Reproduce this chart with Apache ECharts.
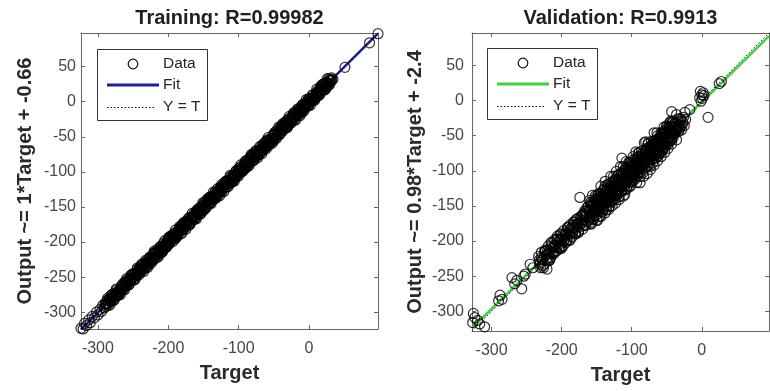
<!DOCTYPE html>
<html>
<head>
<meta charset="utf-8">
<script src="https://cdn.jsdelivr.net/npm/echarts@6/dist/echarts.min.js"></script>
<style>
  html, body { margin: 0; padding: 0; background: #fff; }
  #chart { width: 770px; height: 391px; }
</style>
</head>
<body>
<div id="chart"></div>
<script>
// ---- Training set: network targets and outputs ----
const trainTarget = [
  -324,-321,-319,-316,-313,-311,-308,-305,-302,-300,-297,-295,-293,-291,
  -289,-287,-284,-282,-279,-277,-275,-272,-270,-267,-265,-262,-260,-258,-255,-253,-250,-248,-245,-243,
  -241,-238,-236,-233,-231,-228,-226,-224,-221,-219,-216,-214,-211,-209,-207,-204,-202,-199,-197,-194,
  -192,-190,-187,-185,-182,-180,-177,-175,-173,-170,-168,-165,-163,-160,-158,-156,-153,-151,-148,-146,
  -143,-141,-139,-136,-134,-131,-129,-126,-124,-122,-119,-117,-114,-112,-109,-107,-105,-102,-100,-97,
  -95,-92,-90,-88,-85,-83,-80,-78,-75,-73,-71,-68,-66,-63,-61,-58,-56,-54,-51,-49,-46,-44,-41,-39,
  -37,-34,-32,-29,-27,-24,-22,-20,-17,-15,-12,-10,-7,-5,-3,0,2,5,7,10,12,14,17,19,22,24,27,29,32,34,
  -280,-270,-262,-250,-240,-231,-220,-210,-200,-190,-181,-171,-160,-150,-141,-131,-120,-111,-100,-90,
  -80,-70,-60,-50,-40,-30,-20,-10,0,9,18,26,
  51,86,98,
  -290,-289,-288,-287,-286,-285,-284,-283,-282,-281,-280,-279,-278,
  -277,-276,-275,-274,-273,-272,-271,-270,-269,-268,-267,-266,-265,
  -264,-263,-262,-261,-260,-259,-258,-257,-256,-255,-254,-253,-252,
  -251,-250,-249,-248,-247,-246,-245,-244,-243,-242,-241,-240,-239,
  -238,-237,-236,-235,-234,-233,-232,-231,-230,-229,-228,-227,-226,
  -225,-224,-223,-222,-221,-220,-219,-218,-217,-216,-215,-214,-213,
  -212,-211,-210,-209,-208,-207,-206,-205,-204,-203,-202,-201,-200,
  -199,-198,-197,-196,-195,-194,-193,-192,-191,-190,-189,-188,-187,
  -186,-185,-184,-183,-182,-181,-180,-179,-178,-177,-176,-175,-174,
  -173,-172,-171,-170,-169,-168,-167,-166,-165,-164,-163,-162,-161,
  -160,-159,-158,-157,-156,-155,-154,-153,-152,-151,-150,-149,-148,
  -147,-146,-145,-144,-143,-142,-141,-140,-139,-138,-137,-136,-135,
  -134,-133,-132,-131,-130,-129,-128,-127,-126,-125,-124,-123,-122,
  -121,-120,-119,-118,-117,-116,-115,-114,-113,-112,-111,-110,-109,
  -108,-107,-106,-105,-104,-103,-102,-101,-100,-99,-98,-97,-96,
  -95,-94,-93,-92,-91,-90,-89,-88,-87,-86,-85,-84,-83,
  -82,-81,-80,-79,-78,-77,-76,-75,-74,-73,-72,-71,-70,
  -69,-68,-67,-66,-65,-64,-63,-62,-61,-60,-59,-58,-57,
  -56,-55,-54,-53,-52,-51,-50,-49,-48,-47,-46,-45,-44,
  -43,-42,-41,-40,-39,-38,-37,-36,-35,-34,-33,-32,-31,
  -30,-29,-28,-27,-26,-25,-24,-23,-22,-21,-20,-19,-18,
  -17,-16,-15,-14,-13,-12,-11,-10,-9,-8,-7,-6,-5,
  -4,-3,-2,-1,0,1,2,3,4,5,6,7,8,
  9,10,11,12,13,14,15,16,17,18,19,20,21,
  22,23,24,25,26,27,28,29,30,31,32,
  -286,-283,-280,-277,-274,-271,-268,-265,-262,-259,-256,-253,
  -250,-247,-244,-241,-238,-235,-232,-229,-226,-223,-220,-217,
  -214,-211,-208,-205,-202,-199,-196,-193,-190,-187,-184,-181,
  -178,-175,-172,-169,-166,-163,-160,-157,-154,-151,-148,-145,
  -142,-139,-136,-133,-130,-127,-124,-121,-118,-115,-112,-109,
  -106,-103,-100,-97,-94,-91,-88,-85,-82,-79,-76,-73,
  -70,-67,-64,-61,-58,-55,-52,-49,-46,-43,-40,-37,
  -34,-31,-28,-25,-22,-19,-16,-13,-10,-7,-4,-1,
  2,5,8,11,14,17,20,23,26,29
];
const trainOutput = [
  -323,-324,-316,-319,-311,-315,-306,-308,-300,-304,-296,-299,-290,-294,
  -288,-290,-282,-285,-279,-275,-278,-271,-273,-264,-267,-263,-258,-261,-252,-255,-251,-245,-248,-244,
  -238,-241,-237,-230,-234,-229,-223,-227,-222,-216,-219,-215,-208,-212,-206,-207,-199,-202,-198,-191,
  -195,-189,-190,-182,-184,-181,-174,-178,-172,-173,-165,-167,-164,-157,-161,-155,-156,-148,-151,-147,
  -140,-144,-138,-139,-131,-133,-130,-123,-127,-121,-122,-114,-117,-113,-106,-110,-104,-105,-97,-100,
  -96,-89,-93,-87,-88,-80,-83,-79,-72,-76,-70,-71,-63,-66,-62,-55,-59,-53,-54,-46,-49,-45,-38,-42,
  -36,-37,-29,-32,-28,-21,-25,-19,-20,-12,-15,-11,-4,-8,-2,-3,5,2,6,13,9,13,16,22,19,23,26,31,30,32,
  -275,-275,-257,-255,-235,-236,-215,-215,-195,-195,-176,-176,-155,-155,-136,-136,-115,-116,-95,-95,
  -75,-75,-55,-55,-35,-35,-15,-15,4,5,22,22,
  49,84,97,
  -288,-292,-288,-283,-287,-290,-281,-282,-284,-276,-284,-278,-279,
  -282,-273,-274,-276,-268,-276,-270,-271,-267,-271,-267,-262,-266,
  -268,-262,-263,-259,-263,-259,-254,-258,-261,-252,-253,-255,-247,
  -251,-246,-250,-253,-244,-245,-247,-239,-247,-241,-242,-238,-242,
  -237,-239,-231,-239,-233,-234,-230,-234,-230,-225,-229,-232,-223,
  -226,-222,-226,-222,-217,-221,-224,-215,-216,-218,-210,-218,-212,
  -213,-216,-207,-208,-210,-202,-210,-204,-205,-201,-205,-201,-196,
  -194,-202,-196,-197,-193,-197,-193,-188,-192,-195,-186,-187,-189,
  -189,-185,-180,-184,-187,-178,-179,-181,-173,-181,-175,-176,-172,
  -170,-171,-173,-165,-173,-167,-168,-164,-168,-164,-159,-163,-166,
  -159,-160,-156,-160,-156,-151,-155,-158,-149,-150,-152,-144,-152,
  -143,-147,-150,-141,-142,-144,-136,-144,-138,-139,-135,-139,-135,
  -136,-128,-136,-130,-131,-127,-131,-127,-122,-126,-129,-120,-121,
  -119,-123,-119,-114,-118,-121,-112,-113,-115,-107,-115,-109,-110,
  -113,-104,-105,-107,-99,-107,-101,-102,-98,-102,-98,-93,-97,
  -99,-93,-94,-90,-94,-90,-85,-89,-92,-83,-84,-86,-78,
  -82,-77,-81,-84,-75,-76,-78,-70,-78,-72,-73,-69,-73,
  -68,-70,-62,-70,-64,-65,-61,-65,-61,-56,-60,-63,-54,
  -57,-53,-57,-53,-48,-52,-55,-46,-47,-49,-41,-49,-43,
  -44,-47,-38,-39,-41,-33,-41,-35,-36,-32,-36,-32,-27,
  -25,-33,-27,-28,-24,-28,-24,-19,-23,-26,-17,-18,-20,
  -20,-16,-11,-15,-18,-9,-10,-12,-4,-12,-6,-7,-3,
  -1,-2,-4,4,-4,2,1,5,1,5,10,6,3,
  10,9,13,9,13,18,14,11,20,19,17,25,17,
  26,22,19,28,27,25,33,25,31,30,34,
  -280,-290,-275,-283,-267,-276,-275,-260,-268,-252,-261,-247,
  -245,-253,-237,-246,-232,-242,-226,-236,-221,-229,-213,-222,
  -221,-206,-214,-198,-207,-193,-191,-199,-183,-192,-178,-188,
  -172,-182,-167,-175,-159,-168,-167,-152,-160,-144,-153,-139,
  -137,-145,-129,-138,-124,-134,-118,-128,-113,-121,-105,-114,
  -113,-98,-106,-90,-99,-85,-83,-91,-75,-84,-70,-80,
  -64,-74,-59,-67,-51,-60,-59,-44,-52,-36,-45,-31,
  -29,-37,-21,-30,-16,-26,-10,-20,-5,-13,3,-6,
  -5,10,2,18,9,23,25,17,33,24
];

// ---- Validation set: network targets and outputs ----
const valTarget = [
  -326,-324,-320,-317,-310,-327,
  -290,-288,-285,-271,-267,-264,-257,-254,-252,-245,-241,-221,
  -233,-231,-229,-227,-225,-224,-222,-220,-219,-218,-216,-215,-213,-212,-210,-209,-207,-206,-204,-203,
  -201,-200,-198,-197,-195,-194,-192,-191,-189,-188,-186,-185,-183,-182,-180,-179,-177,-176,-174,-173,
  -172,-170,-169,-168,-167,-166,
  -165,-163,-162,-160,-159,-158,-156,-155,-154,-153,-151,-150,-149,-148,-147,-146,-145,-144,-143,-142,
  -141,-140,-139,-138,-137,-136,-135,-134,-133,-132,-131,-130,-129,-128,-127,-126,-125,-124,-123,-122,
  -121,-120,-119,-118,-117,-116,-115,-114,-113,-112,-111,-110,-109,-108,-107,-106,-105,-104,-103,-102,
  -101,-100,-99,-98,-97,-96,-95,-94,-93,-92,-91,-90,-89,-88,-87,-86,-85,-84,-83,-82,
  -81,-80,-79,-78,-77,-76,-75,-74,-73,-72,-71,-70,-69,-68,-67,-66,-65,-64,-63,-62,
  -61,-60,-59,-58,-57,-56,-55,-54,-53,-52,-51,-50,-49,-48,-47,-46,-45,-44,-43,-42,
  -41,-40,-38,-36,-35,-33,-31,-29,-27,-25,-23,-138,
  -43,-36,-24,-17,-30,-3,0,2,-1,1,3,-2,9,25,28,
  -162,-161,-160,-159,-158,-157,-156,-155,-154,-153,-152,-151,-150,-149,-148,-147,-146,-145,-144,-143,
  -142,-141,-140,-139,-138,-137,-136,-135,-134,-133,-132,-131,-130,-129,-128,-127,-126,-125,-124,-123,
  -122,-121,-120,-119,-118,-117,-116,-115,-114,-113,-112,-111,-110,-109,-108,-107,-106,-105,-104,-103,
  -102,-101,-100,-99,-98,-97,-96,-95,-94,-93,-92,-91,-90,-89,-88,-87,-86,-85,-84,-83,
  -82,-81,-80,-79,-78,-77,-76,-75,-74,-73,-72,-71,-70,-69,-68,-67,-66,-65,-64,-63,
  -62,-61,-60,-59,-58,-57,-56,-55,-54,-53,-52,-51,-50,-49,-48,-47,-46,-45,-44,-43,
  -42,-40,-39,-37,-34,-32,-30,-28,-26,
  -232,-230,-228,-226,-224,-222,-220,-218,-216,-214,-212,-210,-208,-206,-204,-202,-200,-198,-196,-194,
  -192,-190,-188,-186,-184,-182,-180,-178,-176,-174,-172,-170,-168,-166,-164,
  -160,-159,-158,-157,-156,-155,-154,-153,-152,-151,-150,-149,-148,
  -147,-146,-145,-144,-143,-142,-141,-140,-139,-138,-137,-136,-135,
  -134,-133,-132,-131,-130,-129,-128,-127,-126,-125,-124,-123,-122,
  -121,-120,-119,-118,-117,-116,-115,-114,-113,-112,-111,-110,-109,
  -108,-107,-106,-105,-104,-103,-102,-101,-100,-99,-98,-97,-96,
  -95,-94,-93,-92,-91,-90,-89,-88,-87,-86,-85,-84,-83,
  -82,-81,-80,-79,-78,-77,-76,-75,-74,-73,-72,-71,-70,
  -69,-68,-67,-66,-65,-64,-63,-62,-61,-60,-59,-58,-57,
  -56,-55,-54,-53,-52,-51,-50,-49,-48,-47,-46,-45,-44,
  -43,-42,-41,-40,-39,-38,-37,-36,-35,-34,-33,-32,-31,
  -231,-229,-227,-225,-223,-221,-219,-217,-215,-213,-211,-209,-207,-205,-203,
  -201,-199,-197,-195,-193,-191,-189,-187,-185,-183,-181,-179,-177,-175,-173,
  -171,-169,-167,
  -160,-158,-156,-154,-152,-150,-148,-146,-144,-142,
  -140,-138,-136,-134,-132,-130,-128,-126,-124,-122,
  -120,-118,-116,-114,-112,-110,-108,-106,-104,-102,
  -100,-98,-96,-94,-92,-90,-88,-86,-84,-82,
  -80,-78,-76,-74,-72,-70,-68,-66,-64,-62,
  -60,-58,-56,-54,-52,-50,-48,-46,-44,-42
];
const valOutput = [
  -303,-309,-313,-318,-322,-316,
  -285,-277,-283,-252,-261,-256,-268,-250,-247,-233,-238,-240,
  -222,-230,-216,-226,-233,-213,-220,-228,-207,-214,-224,-202,-210,-219,-198,-205,-214,-193,-201,-210,
  -190,-197,-207,-185,-193,-202,-181,-189,-198,-177,-185,-194,-173,-181,-190,-169,-177,-186,-138,-165,
  -174,-183,-161,-170,-157,-178,
  -158,-172,-150,-166,-145,-176,-160,-169,-148,-155,-163,-140,-171,-152,-144,-158,-133,-165,-149,-138,
  -155,-127,-146,-160,-136,-150,-124,-141,-155,-131,-144,-118,-137,-150,-126,-140,-113,-132,-146,-120,
  -135,-108,-127,-141,-115,-129,-103,-82,-121,-136,-110,-134,-98,-118,-126,-104,-113,-94,-122,-99,
  -108,-88,-115,-102,-92,-110,-84,-100,-117,-90,-104,-80,-96,-117,-86,-101,-76,-92,-108,-82,
  -96,-71,-88,-104,-78,-92,-66,-84,-98,-70,-83,-62,-77,-92,-66,-78,-58,-72,-86,-61,
  -74,-52,-67,-80,-56,-68,-47,-62,-74,-52,-63,-43,-57,-68,-46,-58,-38,-52,-62,-41,
  -53,-34,-47,-56,-38,-44,-36,-42,-31,-36,-27,-115,
  -16,-20,-17,-13,-26,4,8,11,-1,3,7,13,-24,24,27,
  -156,-170,-158,-173,-147,-161,-148,-166,-154,-140,-158,-147,-152,-140,-155,-132,-158,-142,-145,-136,
  -153,-141,-127,-145,-134,-139,-127,-142,-119,-145,-129,-132,-123,-123,-137,-125,-140,-114,-128,-115,
  -134,-118,-121,-112,-112,-126,-114,-129,-103,-117,-104,-122,-110,-96,-114,-103,-108,-96,-111,-88,
  -116,-90,-104,-91,-109,-97,-83,-101,-90,-95,-83,-98,-75,-101,-85,-88,-79,-79,-93,-81,
  -88,-77,-82,-70,-85,-62,-88,-72,-75,-66,-66,-80,-68,-83,-57,-71,-58,-76,-64,-50,
  -59,-62,-53,-53,-67,-55,-70,-44,-58,-45,-63,-51,-37,-55,-44,-49,-37,-52,-29,-55,
  -38,-46,-33,-42,-30,-39,-29,-35,-24,
  -227,-238,-227,-238,-215,-225,-213,-228,-216,-203,-217,-207,-209,-198,-210,-190,-209,-196,-198,-188,
  -199,-180,-199,-182,-188,-173,-188,-177,-188,-169,-175,-163,-178,-166,-153,
  -157,-165,-150,-159,-165,-150,-154,-157,-142,-158,-149,-143,-151,
  -142,-146,-149,-134,-150,-141,-135,-143,-136,-144,-129,-138,-144,
  -133,-127,-135,-128,-136,-121,-130,-136,-121,-125,-128,-113,-129,
  -113,-122,-128,-113,-117,-120,-105,-121,-112,-106,-114,-107,-115,
  -112,-97,-113,-104,-98,-106,-99,-107,-92,-101,-107,-92,-96,
  -98,-91,-99,-84,-93,-99,-84,-88,-91,-76,-92,-83,-77,
  -91,-76,-80,-83,-68,-84,-75,-69,-77,-70,-78,-63,-72,
  -76,-67,-61,-69,-62,-70,-55,-64,-70,-55,-59,-62,-47,
  -62,-47,-56,-62,-47,-51,-54,-39,-55,-46,-40,-48,-41,
  -43,-46,-31,-47,-38,-32,-40,-33,-41,-26,-35,-41,-26,
  -233,-223,-235,-222,-214,-226,-218,-227,-208,-216,-207,-215,-197,-206,-198,
  -211,-192,-200,-191,-199,-181,-190,-182,-187,-177,-189,-176,-168,-180,-172,
  -165,-177,-164,
  -142,-175,-135,-169,-136,-170,-134,-165,-122,-158,
  -155,-122,-156,-120,-151,-108,-144,-108,-141,-101,
  -106,-137,-94,-130,-94,-127,-87,-121,-88,-122,
  -116,-80,-113,-73,-107,-74,-108,-72,-103,-60,
  -59,-93,-60,-94,-58,-89,-46,-82,-46,-79,
  -76,-46,-72,-38,-66,-36,-62,-32,-57,-30
];

// Linear fits stated on the y-axis labels
const trainFit = { slope: 1, intercept: -0.66 };
const valFit = { slope: 0.98, intercept: -2.4 };

// Axis extents (both axes of a panel share the same limits)
const trainRange = [-324, 98];
const valRange = [-328, 96];

// Tick positions
const xTicks = [-300, -200, -100, 0];
const yTicks = [-300, -250, -200, -150, -100, -50, 0, 50];

const FONT = 'Liberation Sans';
const AXIS_COLOR = '#666';
const LABEL_COLOR = '#474747';
const TITLE_COLOR = '#202020';

function zip(a, b) { return a.map((v, i) => [v, b[i]]); }

function fitLine(fit, range) {
  return range.map(t => [t, fit.slope * t + fit.intercept]);
}

function xAxisPair(gridIndex, range) {
  const common = {
    type: 'value', gridIndex, min: range[0], max: range[1],
    splitLine: { show: false },
    axisLine: { onZero: false, lineStyle: { color: AXIS_COLOR, width: 1 } },
    axisTick: { inside: true, length: 4, customValues: xTicks, lineStyle: { color: AXIS_COLOR } }
  };
  return [
    Object.assign({}, common, {
      position: 'bottom',
      axisLabel: { customValues: xTicks, margin: 12, color: LABEL_COLOR, fontSize: 16, fontFamily: FONT },
      name: 'Target', nameLocation: 'middle', nameGap: 34,
      nameTextStyle: { fontSize: 20, fontWeight: 'bold', color: '#2a2a2a', fontFamily: FONT }
    }),
    Object.assign({}, common, { position: 'top', axisLabel: { show: false } })
  ];
}

function yAxisPair(gridIndex, range, title, labelMargin, gap) {
  const common = {
    type: 'value', gridIndex, min: range[0], max: range[1],
    splitLine: { show: false },
    axisLine: { onZero: false, lineStyle: { color: AXIS_COLOR, width: 1 } },
    axisTick: { inside: true, length: 4, customValues: yTicks, lineStyle: { color: AXIS_COLOR } }
  };
  return [
    Object.assign({}, common, {
      position: 'left',
      axisLabel: { customValues: yTicks, margin: labelMargin, color: LABEL_COLOR, fontSize: 16, fontFamily: FONT },
      name: title, nameLocation: 'middle', nameGap: gap,
      nameTextStyle: { fontSize: 20, fontWeight: 'bold', color: '#2a2a2a', fontFamily: FONT }
    }),
    Object.assign({}, common, { position: 'right', axisLabel: { show: false } })
  ];
}

function panelSeries(axisIdx, target, output, fit, range, fitColor) {
  return [
    {
      type: 'line', xAxisIndex: axisIdx, yAxisIndex: axisIdx, silent: true,
      data: fitLine(fit, range), symbol: 'none', z: 2,
      lineStyle: { color: fitColor, width: 2.5 }
    },
    {
      type: 'line', xAxisIndex: axisIdx, yAxisIndex: axisIdx, silent: true,
      data: range.map(t => [t, t]), symbol: 'none', z: 3,
      lineStyle: { color: '#111', width: 1, type: [1.5, 2] }
    },
    {
      type: 'scatter', xAxisIndex: axisIdx, yAxisIndex: axisIdx, silent: true,
      data: zip(target, output), symbol: 'circle', symbolSize: 10, z: 4,
      itemStyle: { color: 'rgba(0,0,0,0)', borderColor: '#000', borderWidth: 1.2 }
    }
  ];
}

function legendBox(x0, y0, fitColor) {
  const txt = (y, s) => ({
    type: 'text', x: x0 + 66, y: y0 + y, z: 101,
    style: { text: s, fontSize: 15.5, fontFamily: FONT, fill: '#262626', verticalAlign: 'middle' }
  });
  return [
    { type: 'rect', z: 100, shape: { x: x0 + 0.5, y: y0 + 0.5, width: 110, height: 71 },
      style: { fill: '#fff', stroke: '#333', lineWidth: 1 } },
    { type: 'circle', z: 101, shape: { cx: x0 + 36, cy: y0 + 15, r: 4.8 },
      style: { fill: 'none', stroke: '#111', lineWidth: 1.2 } },
    txt(15, 'Data'),
    { type: 'line', z: 101, shape: { x1: x0 + 10, y1: y0 + 36, x2: x0 + 62, y2: y0 + 36 },
      style: { stroke: fitColor, lineWidth: 3 } },
    txt(36, 'Fit'),
    { type: 'line', z: 101, shape: { x1: x0 + 10, y1: y0 + 58.5, x2: x0 + 58, y2: y0 + 58.5 },
      style: { stroke: '#111', lineWidth: 1, lineDash: [1.5, 2] } },
    txt(58, 'Y = T')
  ];
}

function titleText(cx, s) {
  return { type: 'text', x: cx, y: 18, z: 101,
    style: { text: s, fontSize: 20, fontWeight: 'bold', fontFamily: FONT, fill: TITLE_COLOR,
             align: 'center', verticalAlign: 'middle' } };
}

const BLUE = '#1c1ca8';
const GREEN = '#3fd23f';

const chart = echarts.init(document.getElementById('chart'), null, { renderer: 'canvas' });
chart.setOption({
  animation: false,
  backgroundColor: '#fff',
  grid: [
    { left: 81, top: 33, width: 297, height: 296 },
    { left: 472, top: 33, width: 297, height: 298 }
  ],
  xAxis: [...xAxisPair(0, trainRange), ...xAxisPair(1, valRange)],
  yAxis: [
    ...yAxisPair(0, trainRange, 'Output ~= 1*Target + -0.66', 5, 46),
    ...yAxisPair(1, valRange, 'Output ~= 0.98*Target + -2.4', 8, 47)
  ],
  series: [
    ...panelSeries(0, trainTarget, trainOutput, trainFit, trainRange, BLUE),
    ...panelSeries(2, valTarget, valOutput, valFit, valRange, GREEN)
  ],
  graphic: [
    titleText(229.5, 'Training: R=0.99982'),
    titleText(620.5, 'Validation: R=0.9913'),
    ...legendBox(97, 49, BLUE),
    ...legendBox(487, 48, GREEN)
  ]
});
</script>
</body>
</html>
